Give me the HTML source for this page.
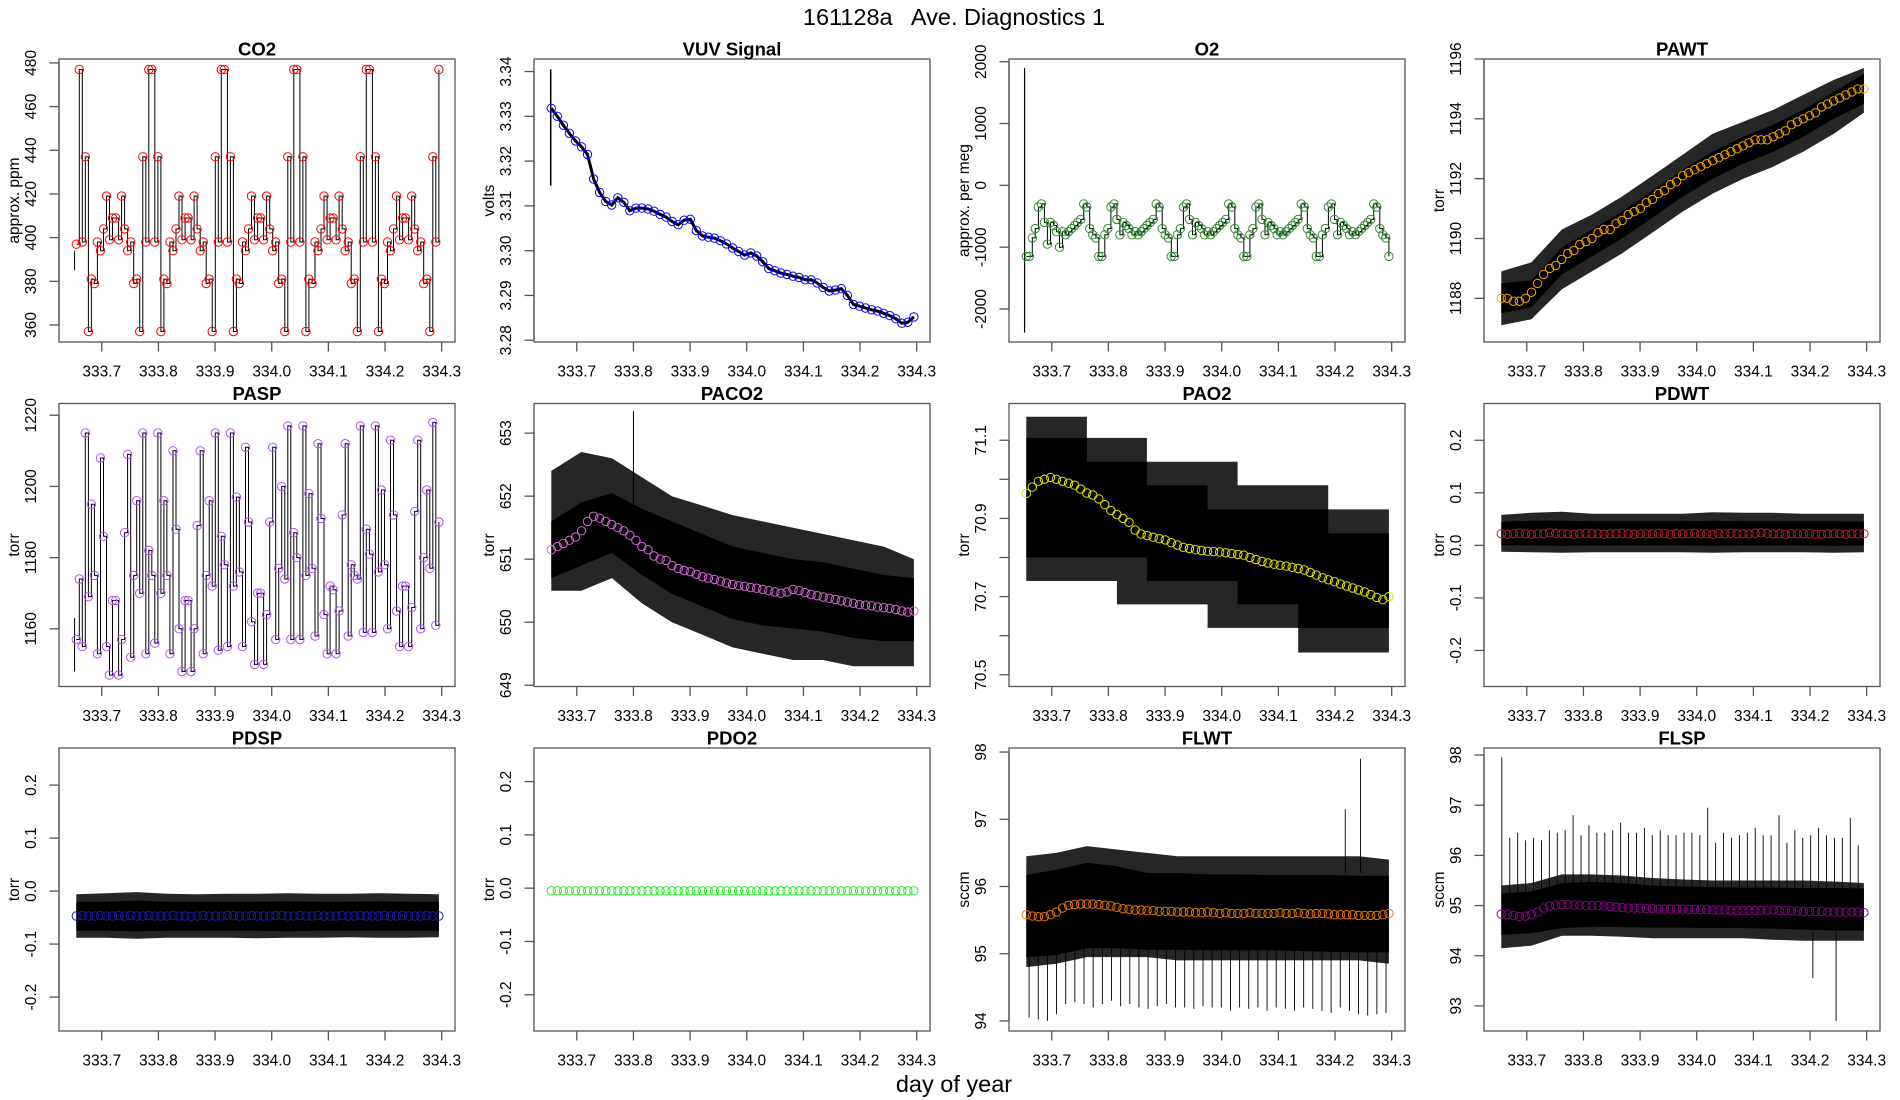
<!DOCTYPE html>
<html><head><meta charset="utf-8"><title>161128a Ave. Diagnostics 1</title>
<style>
html,body{margin:0;padding:0;background:#fff;}
svg{display:block;font-family:"Liberation Sans",Arial,sans-serif;}
</style></head>
<body>
<svg id="chart" xmlns="http://www.w3.org/2000/svg" width="1900" height="1100" viewBox="0 0 1900 1100">
<rect x="0" y="0" width="1900" height="1100" fill="#fff"/>
<text x="954" y="25" text-anchor="middle" font-size="23.5" style="white-space:pre">161128a   Ave. Diagnostics 1</text>
<text x="954" y="1092" text-anchor="middle" font-size="23.5">day of year</text>
</svg>
<script>
// ---------- shared axis data ----------
const xTicks=[333.7,333.8,333.9,334.0,334.1,334.2,334.3];
const xTickLabels=['333.7','333.8','333.9','334.0','334.1','334.2','334.3'];
const bandDays=[333.655,333.708,333.762,333.815,333.868,333.922,333.975,334.028,334.082,334.135,334.188,334.242,334.295];

// ---------- CO2 ----------
const co2Ticks=[360,380,400,420,440,460,480];
const co2TickLabels=['360','380','400','420','440','460','480'];
const co2Values=[397,
477,398,437,357,381,379,398,394,404,419,399,409,409,399,419,404,394,398,379,381,357,437,398,477,
477,398,437,357,381,379,398,394,404,419,399,409,409,399,419,404,394,398,379,381,357,437,398,477,
477,398,437,357,381,379,398,394,404,419,399,409,409,399,419,404,394,398,379,381,357,437,398,477,
477,398,437,357,381,379,398,394,404,419,399,409,409,399,419,404,394,398,379,381,357,437,398,477,
477,398,437,357,381,379,398,394,404,419,399,409,409,399,419,404,394,398,379,381,357,437,398,477];

// ---------- VUV ----------
const vuvTicks=[3.28,3.29,3.30,3.31,3.32,3.33,3.34];
const vuvTickLabels=['3.28','3.29','3.30','3.31','3.32','3.33','3.34'];
const vuvValues=[3.3318,3.3300,3.3280,3.3262,3.3245,3.3232,3.3215,3.3160,3.3130,3.3110,3.3102,3.3118,3.3108,3.3089,3.3095,3.3095,3.3093,3.3088,3.3081,3.3075,3.3065,3.3058,3.3068,3.3070,3.3045,3.3033,3.3030,3.3028,3.3022,3.3015,3.3006,3.2998,3.2990,3.2995,3.2988,3.2975,3.2960,3.2955,3.2950,3.2947,3.2943,3.2940,3.2935,3.2935,3.2928,3.2918,3.2910,3.2912,3.2915,3.2900,3.2880,3.2876,3.2872,3.2868,3.2865,3.2860,3.2855,3.2848,3.2838,3.2840,3.2852];
const vuvSpike=[3.3405,3.3145];

// ---------- O2 ----------
const o2Ticks=[-2000,-1000,0,1000,2000];
const o2TickLabels=['-2000','-1000','0','1000','2000'];
const o2Values=[
-1150,-1150,-850,-700,-350,-300,-600,-950,-600,-650,-750,-1000,-750,-800,-750,-700,-650,-600,-550,-300,-350,-700,-800,-850,
-1150,-1150,-800,-700,-350,-300,-550,-800,-600,-650,-700,-800,-750,-800,-750,-700,-650,-600,-550,-300,-350,-700,-800,-850,
-1150,-1150,-800,-700,-350,-300,-550,-800,-600,-650,-700,-800,-750,-800,-750,-700,-650,-600,-550,-300,-350,-700,-800,-850,
-1150,-1150,-800,-700,-350,-300,-550,-800,-600,-650,-700,-800,-750,-800,-750,-700,-650,-600,-550,-300,-350,-700,-800,-850,
-1150,-1150,-800,-700,-350,-300,-550,-800,-600,-650,-700,-800,-750,-800,-750,-700,-650,-600,-550,-300,-350,-700,-800,-850,
-1150];
const o2Spike=[1900,-2380];

// ---------- PAWT ----------
const pawtTicks=[1188,1190,1192,1194,1196];
const pawtTickLabels=['1188','1190','1192','1194','1196'];
const pawtValues=[1188.0,1188.0,1187.9,1187.9,1188.0,1188.2,1188.5,1188.8,1189.0,1189.1,1189.3,1189.5,1189.6,1189.8,1189.9,1190.0,1190.2,1190.3,1190.3,1190.5,1190.6,1190.8,1190.9,1191.0,1191.2,1191.3,1191.5,1191.6,1191.8,1191.9,1192.1,1192.2,1192.3,1192.4,1192.5,1192.6,1192.7,1192.8,1192.9,1193.0,1193.1,1193.2,1193.3,1193.3,1193.3,1193.4,1193.5,1193.6,1193.8,1193.9,1194.0,1194.1,1194.2,1194.4,1194.5,1194.6,1194.7,1194.8,1194.9,1195.0,1195.0];
const pawtCoreHi=[1188.5,1188.6,1189.7,1190.3,1190.9,1191.6,1192.3,1192.9,1193.4,1193.8,1194.3,1194.9,1195.5];
const pawtCoreLo=[1187.5,1187.7,1188.8,1189.4,1190.0,1190.7,1191.4,1192.0,1192.5,1192.9,1193.4,1194.0,1194.5];
const pawtOuterHi=[1188.9,1189.2,1190.3,1190.8,1191.4,1192.1,1192.8,1193.5,1193.9,1194.3,1194.8,1195.3,1195.7];
const pawtOuterLo=[1187.1,1187.3,1188.3,1188.9,1189.5,1190.2,1190.9,1191.5,1192.0,1192.4,1192.9,1193.5,1194.2];

// ---------- PASP ----------
const paspTicks=[1160,1180,1200,1220];
const paspTickLabels=['1160','1180','1200','1220'];
const paspValues=[1157,1174,1155,1215,1169,1195,1175,1153,1208,1186,1155,1147,1168,1168,1147,1157,1187,1209,1152,1175,1196,1170,1215,1153,1182,1175,1156,1215,1170,1196,1175,1153,1210,1188,1160,1148,1168,1168,1148,1160,1189,1210,1153,1175,1196,1172,1215,1154,1186,1178,1155,1215,1172,1197,1176,1155,1211,1190,1162,1150,1170,1170,1150,1164,1190,1211,1157,1177,1200,1174,1217,1157,1187,1180,1157,1217,1175,1198,1177,1158,1212,1191,1164,1153,1172,1171,1153,1165,1192,1212,1158,1178,1175,1174,1217,1159,1188,1181,1159,1217,1176,1199,1178,1160,1213,1192,1165,1155,1172,1172,1155,1166,1193,1213,1160,1180,1199,1177,1218,1161,1190];

// ---------- PACO2 ----------
const paco2Ticks=[649,650,651,652,653];
const paco2TickLabels=['649','650','651','652','653'];
const paco2Values=[651.15,651.2,651.25,651.3,651.35,651.45,651.6,651.68,651.65,651.6,651.55,651.5,651.45,651.38,651.3,651.2,651.15,651.05,651.0,650.98,650.9,650.85,650.82,650.8,650.76,650.72,650.7,650.68,650.65,650.62,650.6,650.58,650.57,650.55,650.54,650.52,650.5,650.48,650.46,650.48,650.52,650.5,650.47,650.44,650.42,650.4,650.38,650.36,650.34,650.32,650.3,650.28,650.27,650.26,650.24,650.23,650.22,650.2,650.18,650.16,650.18];
const paco2CoreHi=[651.6,651.9,652.05,651.8,651.6,651.4,651.2,651.1,651.0,650.95,650.85,650.75,650.7];
const paco2CoreLo=[650.7,650.9,651.1,650.75,650.45,650.25,650.05,649.95,649.9,649.85,649.75,649.7,649.7];
const paco2OuterHi=[652.4,652.7,652.6,652.3,652.0,651.85,651.7,651.6,651.5,651.4,651.3,651.2,651.0];
const paco2OuterLo=[650.5,650.5,650.7,650.3,650.0,649.8,649.6,649.5,649.4,649.4,649.3,649.3,649.3];

// ---------- PAO2 ----------
const pao2Ticks=[70.5,70.6,70.7,70.8,70.9,71.0,71.1];
const pao2TickLabels=['70.5','','70.7','','70.9','','71.1'];
const pao2Values=[70.964,70.98,70.995,71.0,71.005,71.0,70.995,70.99,70.985,70.975,70.965,70.96,70.95,70.935,70.92,70.91,70.9,70.89,70.87,70.86,70.856,70.852,70.848,70.845,70.838,70.832,70.826,70.823,70.82,70.818,70.816,70.815,70.814,70.812,70.81,70.808,70.806,70.8,70.795,70.79,70.786,70.783,70.78,70.778,70.775,70.772,70.768,70.762,70.755,70.748,70.743,70.738,70.732,70.727,70.722,70.717,70.712,70.705,70.698,70.692,70.7];
const pao2CoreHi=[71.106,71.106,71.045,71.045,70.985,70.985,70.923,70.923,70.923,70.923,70.862,70.862,70.862];
const pao2CoreLo=[70.8,70.8,70.8,70.8,70.74,70.74,70.74,70.68,70.68,70.62,70.62,70.62,70.62];
const pao2OuterHi=[71.16,71.16,71.106,71.106,71.045,71.045,71.045,70.985,70.985,70.985,70.923,70.923,70.923];
const pao2OuterLo=[70.74,70.74,70.74,70.68,70.68,70.68,70.62,70.62,70.62,70.557,70.557,70.557,70.557];

// ---------- PDWT / PDSP / PDO2 ----------
const pdTicks=[-0.2,-0.1,0.0,0.1,0.2];
const pdTickLabels=['-0.2','-0.1','0.0','0.1','0.2'];
const pdwtValues=[0.022,0.021,0.022,0.023,0.022,0.021,0.022,0.022,0.024,0.023,0.022,0.022,0.021,0.022,0.023,0.022,0.022,0.021,0.022,0.022,0.023,0.022,0.021,0.022,0.022,0.022,0.023,0.022,0.021,0.022,0.022,0.022,0.023,0.022,0.022,0.021,0.022,0.022,0.023,0.022,0.022,0.022,0.023,0.024,0.023,0.022,0.022,0.021,0.022,0.022,0.022,0.022,0.021,0.021,0.022,0.022,0.022,0.021,0.022,0.022,0.022];
const pdwtCoreHi=[0.045,0.047,0.047,0.046,0.046,0.046,0.046,0.047,0.046,0.046,0.046,0.046,0.045];
const pdwtCoreLo=[0.0,0.0,-0.001,0.0,0.0,0.0,0.0,-0.001,0.0,0.0,0.0,-0.001,0.0];
const pdwtOuterHi=[0.058,0.062,0.064,0.06,0.06,0.06,0.06,0.063,0.062,0.062,0.06,0.06,0.06];
const pdwtOuterLo=[-0.012,-0.013,-0.014,-0.013,-0.013,-0.013,-0.013,-0.014,-0.013,-0.013,-0.013,-0.014,-0.013];
const pdspValues=[-0.047,-0.046,-0.047,-0.047,-0.046,-0.047,-0.047,-0.046,-0.047,-0.046,-0.047,-0.047,-0.046,-0.047,-0.047,-0.047,-0.046,-0.047,-0.047,-0.048,-0.047,-0.046,-0.047,-0.047,-0.047,-0.046,-0.046,-0.047,-0.047,-0.046,-0.047,-0.047,-0.047,-0.046,-0.046,-0.047,-0.047,-0.046,-0.047,-0.047,-0.046,-0.047,-0.047,-0.047,-0.046,-0.047,-0.047,-0.046,-0.047,-0.047,-0.047,-0.046,-0.047,-0.047,-0.046,-0.047,-0.047,-0.047,-0.046,-0.047,-0.047];
const pdspCoreHi=[-0.02,-0.02,-0.018,-0.02,-0.02,-0.02,-0.02,-0.019,-0.02,-0.02,-0.019,-0.02,-0.02];
const pdspCoreLo=[-0.075,-0.075,-0.076,-0.075,-0.075,-0.075,-0.075,-0.076,-0.075,-0.075,-0.075,-0.075,-0.075];
const pdspOuterHi=[-0.006,-0.004,-0.002,-0.005,-0.006,-0.005,-0.005,-0.004,-0.005,-0.005,-0.004,-0.005,-0.006];
const pdspOuterLo=[-0.088,-0.088,-0.09,-0.088,-0.088,-0.088,-0.089,-0.088,-0.088,-0.087,-0.088,-0.088,-0.087];
const pdo2Values=[-0.005,-0.005,-0.005,-0.005,-0.005,-0.005,-0.005,-0.005,-0.005,-0.005,-0.005,-0.005,-0.005,-0.005,-0.005,-0.005,-0.005,-0.005,-0.005,-0.005,-0.005,-0.005,-0.005,-0.005,-0.005,-0.005,-0.005,-0.005,-0.005,-0.005,-0.005,-0.005,-0.005,-0.005,-0.005,-0.005,-0.005,-0.005,-0.005,-0.005,-0.005,-0.005,-0.005,-0.005,-0.005,-0.005,-0.005,-0.005,-0.005,-0.005,-0.005,-0.005,-0.005,-0.005,-0.005,-0.005,-0.005,-0.005,-0.005,-0.005,-0.005];

// ---------- FLWT ----------
const flwtTicks=[94,95,96,97,98];
const flwtTickLabels=['94','95','96','97','98'];
const flwtValues=[95.58,95.56,95.55,95.55,95.58,95.62,95.68,95.72,95.73,95.74,95.74,95.74,95.73,95.72,95.71,95.69,95.67,95.66,95.65,95.65,95.64,95.64,95.63,95.63,95.63,95.62,95.62,95.62,95.61,95.61,95.62,95.61,95.6,95.61,95.6,95.6,95.6,95.61,95.6,95.6,95.6,95.6,95.61,95.6,95.6,95.61,95.6,95.59,95.6,95.6,95.59,95.58,95.58,95.58,95.58,95.57,95.57,95.57,95.57,95.58,95.6];
const flwtCoreHi=[96.17,96.25,96.35,96.3,96.2,96.2,96.18,96.18,96.17,96.17,96.17,96.16,96.16];
const flwtCoreLo=[94.95,94.98,95.08,95.08,95.06,95.06,95.05,95.05,95.05,95.04,95.03,95.02,95.02];
const flwtOuterHi=[96.45,96.5,96.6,96.55,96.5,96.45,96.45,96.45,96.45,96.45,96.45,96.45,96.4];
const flwtOuterLo=[94.8,94.85,94.95,94.95,94.95,94.9,94.9,94.9,94.9,94.9,94.9,94.9,94.85];
const flwtDownSpikes=[94.05,94.02,94.0,94.1,94.25,94.28,94.25,94.2,94.25,94.3,94.22,94.25,94.2,94.18,94.22,94.25,94.2,94.2,94.18,94.22,94.2,94.2,94.15,94.2,94.18,94.2,94.15,94.2,94.18,94.15,94.2,94.18,94.15,94.12,94.2,94.15,94.1,94.08,94.1,94.12];
const flwtUpSpikeDays=[334.218,334.245];
const flwtUpSpikeVals=[97.15,97.9];

// ---------- FLSP ----------
const flspTicks=[93,94,95,96,97,98];
const flspTickLabels=['93','94','95','96','97','98'];
const flspValues=[94.83,94.82,94.8,94.78,94.79,94.82,94.87,94.95,94.99,95.01,95.02,95.02,95.01,95.01,95.0,95.0,95.0,94.99,94.98,94.97,94.96,94.95,94.95,94.95,94.94,94.94,94.93,94.93,94.93,94.93,94.93,94.92,94.92,94.92,94.92,94.91,94.91,94.91,94.9,94.9,94.9,94.9,94.9,94.9,94.91,94.91,94.9,94.9,94.89,94.89,94.88,94.88,94.88,94.88,94.87,94.87,94.87,94.87,94.87,94.87,94.86];
const flspCoreHi=[95.24,95.28,95.45,95.47,95.45,95.4,95.38,95.37,95.36,95.36,95.35,95.35,95.34];
const flspCoreLo=[94.42,94.45,94.55,94.58,94.57,94.56,94.56,94.55,94.55,94.54,94.52,94.5,94.5];
const flspOuterHi=[95.4,95.45,95.62,95.62,95.6,95.55,95.52,95.5,95.5,95.5,95.5,95.48,95.45];
const flspOuterLo=[94.15,94.2,94.4,94.4,94.38,94.35,94.35,94.35,94.35,94.32,94.3,94.3,94.3];
const flspUpSpikes=[97.95,96.35,96.45,96.3,96.35,96.3,96.5,96.45,96.5,96.8,96.4,96.6,96.45,96.45,96.5,96.65,96.45,96.45,96.55,96.4,96.5,96.4,96.4,96.45,96.45,96.4,96.95,96.25,96.45,96.35,96.4,96.45,96.55,96.4,96.4,96.8,96.25,96.5,96.35,96.4,96.55,96.4,96.35,96.35,96.75,96.2];
const flspDownSpikeDays=[334.205,334.246];
const flspDownSpikeVals=[93.55,92.7];

// ---------- rendering ----------
const NS='http://www.w3.org/2000/svg';
const svg=document.getElementById('chart');
const X0=333.6245, X1=334.3235, T0=333.655, T1=334.295;
function mk(tag,parent){const e=document.createElementNS(NS,tag);parent.appendChild(e);return e;}
function dayAt(i,n){return T0+i*(T1-T0)/(n-1);}
function spanDay(i,n,a,b){return a+i*(b-a)/(n-1);}

function makePanel(col,row,title,ylab,ylo,yhi,yt,ytl,name){
  const L=59+col*475, T=59+row*344.5, W=396, H=283;
  const sx=v=>L+(v-X0)/(X1-X0)*W;
  const sy=v=>T+H-(v-ylo)/(yhi-ylo)*H;
  const g=mk('g',svg);
  
  
  const marks=mk('g',g);
  
  
  const box=mk('rect',g);
  
  
  box.setAttribute('x',L);box.setAttribute('y',T);box.setAttribute('width',W);box.setAttribute('height',H);
  box.setAttribute('fill','none');box.setAttribute('stroke','#555');box.setAttribute('stroke-width','1.3');
  const xa=mk('g',g);
  
  
  xTicks.forEach((t,i)=>{
    const ln=mk('line',xa);
    
    
    ln.setAttribute('x1',sx(t));ln.setAttribute('x2',sx(t));ln.setAttribute('y1',T+H);ln.setAttribute('y2',T+H+9.5);
    ln.setAttribute('stroke','#555');ln.setAttribute('stroke-width','1.3');
    const tx=mk('text',xa);
    
    
    tx.setAttribute('x',sx(t));tx.setAttribute('y',T+H+34.5);tx.setAttribute('text-anchor','middle');tx.setAttribute('font-size','15.5');
    tx.textContent=xTickLabels[i];
  });
  const ya=mk('g',g);
  
  
  const yl=mk('line',ya);
  
  
  yl.setAttribute('x1',L);yl.setAttribute('x2',L);yl.setAttribute('y1',sy(yt[0]));yl.setAttribute('y2',sy(yt[yt.length-1]));
  yl.setAttribute('stroke','#555');yl.setAttribute('stroke-width','1.3');
  yt.forEach((t,i)=>{
    const ln=mk('line',ya);
    
    
    ln.setAttribute('x1',L);ln.setAttribute('x2',L-9.5);ln.setAttribute('y1',sy(t));ln.setAttribute('y2',sy(t));
    ln.setAttribute('stroke','#555');ln.setAttribute('stroke-width','1.3');
    if(ytl[i]){
      const tx=mk('text',ya);
      
      
      tx.setAttribute('text-anchor','middle');tx.setAttribute('font-size','15.5');
      tx.setAttribute('transform','translate('+(L-23)+','+sy(t)+') rotate(-90)');
      tx.textContent=ytl[i];
    }
  });
  const yt2=mk('text',g);
  
  
  yt2.setAttribute('text-anchor','middle');yt2.setAttribute('font-size','15.5');
  yt2.setAttribute('transform','translate('+(L-40)+','+(T+H/2)+') rotate(-90)');
  yt2.textContent=ylab;
  const tt=mk('text',g);
  
  
  tt.setAttribute('x',L+W/2);tt.setAttribute('y',T-3.5);tt.setAttribute('text-anchor','middle');
  tt.setAttribute('font-size','18.5');tt.setAttribute('font-weight','bold');
  tt.textContent=title;
  return {g:marks,sx,sy};
}

function band(p,hi,lo,fill,op,step,name){
  let up=[],dn=[];
  for(let i=0;i<bandDays.length;i++){
    const x=p.sx(bandDays[i]);
    if(step&&i>0){up.push([x,p.sy(hi[i-1])]);dn.push([x,p.sy(lo[i-1])]);}
    up.push([x,p.sy(hi[i])]);dn.push([x,p.sy(lo[i])]);
  }
  const pts=up.concat(dn.reverse()).map(a=>a[0].toFixed(1)+','+a[1].toFixed(1)).join(' ');
  const pg=mk('polygon',p.g);
  
  
  pg.setAttribute('points',pts);pg.setAttribute('fill',fill);pg.setAttribute('fill-opacity',op);
}
function line(p,vals,step,width,name){
  const n=vals.length;let d='';
  for(let i=0;i<n;i++){
    const x=p.sx(dayAt(i,n)),y=p.sy(vals[i]);
    if(i===0)d+='M'+x.toFixed(1)+','+y.toFixed(1);
    else if(step)d+='H'+x.toFixed(1)+'V'+y.toFixed(1);
    else d+='L'+x.toFixed(1)+','+y.toFixed(1);
  }
  const pa=mk('path',p.g);
  
  
  pa.setAttribute('d',d);pa.setAttribute('fill','none');pa.setAttribute('stroke','#000');pa.setAttribute('stroke-width',width);
}
function vline(p,day,a,b,name,w){
  const ln=mk('line',p.g);
  
  
  ln.setAttribute('x1',p.sx(day));ln.setAttribute('x2',p.sx(day));ln.setAttribute('y1',p.sy(a));ln.setAttribute('y2',p.sy(b));
  ln.setAttribute('stroke','#000');ln.setAttribute('stroke-width',w||1);
}
function circles(p,vals,color,name){
  const n=vals.length;
  for(let i=0;i<n;i++){
    const c=mk('circle',p.g);
    
    
    c.setAttribute('cx',p.sx(dayAt(i,n)).toFixed(1));c.setAttribute('cy',p.sy(vals[i]).toFixed(1));
    c.setAttribute('r','4.2');c.setAttribute('fill','none');c.setAttribute('stroke',color);c.setAttribute('stroke-width','1');
  }
}

let p=makePanel(0,0,'CO2','approx. ppm',352.2,481.8,co2Ticks,co2TickLabels,'co2');
vline(p,333.652,385,394,'co2-start-segment');
line(p,co2Values,true,1,'co2-line');
circles(p,co2Values,'#ff0000','co2-point');

p=makePanel(1,0,'VUV Signal','volts',3.2796,3.3428,vuvTicks,vuvTickLabels,'vuv');
vline(p,333.654,vuvSpike[0],vuvSpike[1],'vuv-spike',1.5);
line(p,vuvValues,false,3,'vuv-line');
circles(p,vuvValues,'#0000ff','vuv-point');

p=makePanel(2,0,'O2','approx. per meg',-2534,2044,o2Ticks,o2TickLabels,'o2');
vline(p,333.652,o2Spike[0],o2Spike[1],'o2-spike',1.2);
line(p,o2Values,true,1,'o2-line');
circles(p,o2Values,'#2e8b2e','o2-point');

p=makePanel(3,0,'PAWT','torr',1186.54,1196.0,pawtTicks,pawtTickLabels,'pawt');
band(p,pawtOuterHi,pawtOuterLo,'#000',0.85,false,'pawt-raw-outer');
band(p,pawtCoreHi,pawtCoreLo,'#000',1,false,'pawt-raw-core');
circles(p,pawtValues,'#ffa500','pawt-point');

p=makePanel(0,1,'PASP','torr',1143.8,1223.3,paspTicks,paspTickLabels,'pasp');
vline(p,333.652,1148,1163,'pasp-start-segment');
line(p,paspValues,true,1,'pasp-line');
circles(p,paspValues,'#b44dff','pasp-point');

p=makePanel(1,1,'PACO2','torr',648.98,653.47,paco2Ticks,paco2TickLabels,'paco2');
band(p,paco2OuterHi,paco2OuterLo,'#000',0.85,false,'paco2-raw-outer');
band(p,paco2CoreHi,paco2CoreLo,'#000',1,false,'paco2-raw-core');
vline(p,333.8,651.5,653.35,'paco2-spike');
circles(p,paco2Values,'#dd66dd','paco2-point');

p=makePanel(2,1,'PAO2','torr',70.47,71.194,pao2Ticks,pao2TickLabels,'pao2');
band(p,pao2OuterHi,pao2OuterLo,'#000',0.85,true,'pao2-raw-outer');
band(p,pao2CoreHi,pao2CoreLo,'#000',1,true,'pao2-raw-core');
circles(p,pao2Values,'#e6e600','pao2-point');

p=makePanel(3,1,'PDWT','torr',-0.2686,0.27,pdTicks,pdTickLabels,'pdwt');
band(p,pdwtOuterHi,pdwtOuterLo,'#000',0.85,false,'pdwt-raw-outer');
band(p,pdwtCoreHi,pdwtCoreLo,'#000',1,false,'pdwt-raw-core');
circles(p,pdwtValues,'#b22222','pdwt-point');

p=makePanel(0,2,'PDSP','torr',-0.264,0.27,pdTicks,pdTickLabels,'pdsp');
band(p,pdspOuterHi,pdspOuterLo,'#000',0.85,false,'pdsp-raw-outer');
band(p,pdspCoreHi,pdspCoreLo,'#000',1,false,'pdsp-raw-core');
circles(p,pdspValues,'#1a1aa0','pdsp-point');

p=makePanel(1,2,'PDO2','torr',-0.268,0.263,pdTicks,pdTickLabels,'pdo2');
circles(p,pdo2Values,'#22ee22','pdo2-point');

p=makePanel(2,2,'FLWT','sccm',93.85,98.06,flwtTicks,flwtTickLabels,'flwt');
for(let i=0;i<flwtDownSpikes.length;i++){
  vline(p,spanDay(i,flwtDownSpikes.length,333.66,334.29),95.2,flwtDownSpikes[i],'flwt-down-spike',0.9);
}
for(let i=0;i<flwtUpSpikeDays.length;i++){
  vline(p,flwtUpSpikeDays[i],96.2,flwtUpSpikeVals[i],'flwt-up-spike',0.9);
}
band(p,flwtOuterHi,flwtOuterLo,'#000',0.85,false,'flwt-raw-outer');
band(p,flwtCoreHi,flwtCoreLo,'#000',1,false,'flwt-raw-core');
circles(p,flwtValues,'#e87800','flwt-point');

p=makePanel(3,2,'FLSP','sccm',92.5,98.14,flspTicks,flspTickLabels,'flsp');
for(let i=0;i<flspUpSpikes.length;i++){
  vline(p,spanDay(i,flspUpSpikes.length,333.656,334.285),95.2,flspUpSpikes[i],'flsp-up-spike',0.9);
}
for(let i=0;i<flspDownSpikeDays.length;i++){
  vline(p,flspDownSpikeDays[i],94.5,flspDownSpikeVals[i],'flsp-down-spike',0.9);
}
band(p,flspOuterHi,flspOuterLo,'#000',0.85,false,'flsp-raw-outer');
band(p,flspCoreHi,flspCoreLo,'#000',1,false,'flsp-raw-core');
circles(p,flspValues,'#8b008b','flsp-point');
</script>
</body></html>
